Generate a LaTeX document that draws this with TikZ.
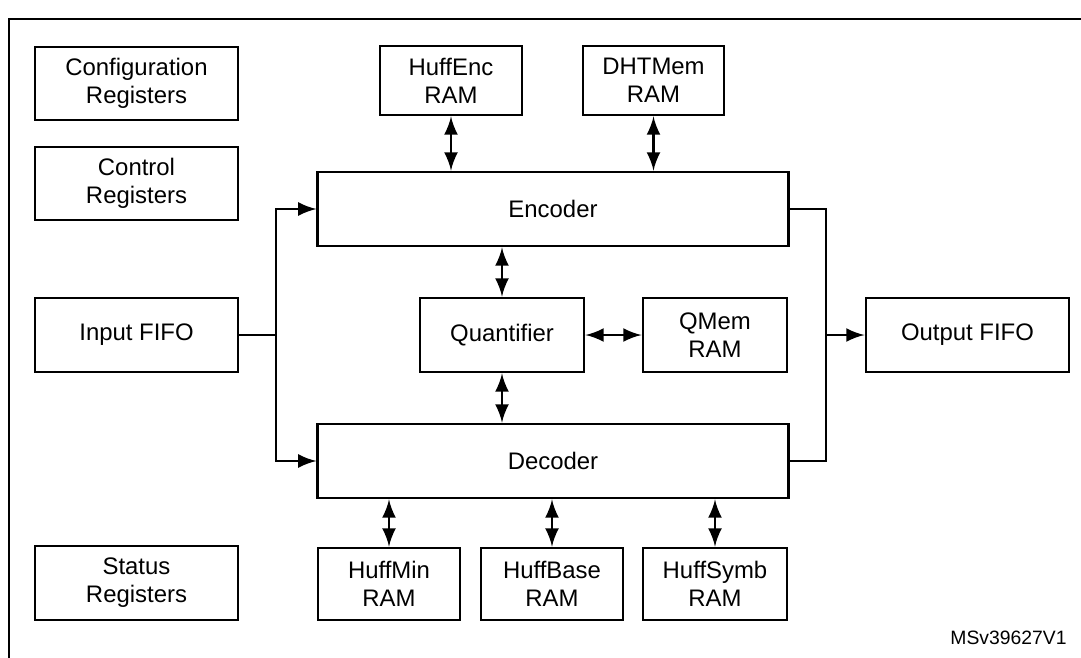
\documentclass[tikz,border=0pt]{standalone}
\usepackage{fontspec}
\setmainfont{Liberation Sans}
\begin{document}
\begin{tikzpicture}[x=0.01cm,y=-0.01cm,
    block_box/.style={draw=black,thick,align=center,font=\fontsize{6.8}{8}\selectfont,inner sep=0pt},
    double_arrow/.style={thick,black,<->,>=latex},
    single_arrow/.style={thick,black,->,>=latex},
    bus_wire/.style={thick,black}]
  \useasboundingbox (0,0) rectangle (1081,657);
  \begin{scope}
    \clip (0,0) rectangle (1081,657);
    \draw[thick] (9,19) rectangle (1090,670);
  \end{scope}
\node[block_box,minimum width=2.03cm,minimum height=0.73cm] (config) at (136.5,83.5) {Configuration\\Registers};
\node[block_box,minimum width=2.03cm,minimum height=0.73cm] (control) at (136.5,183.5) {Control\\Registers};
\node[block_box,minimum width=2.03cm,minimum height=0.74cm] (infifo) at (136.5,335) {Input FIFO};
\node[block_box,minimum width=2.03cm,minimum height=0.74cm] (status) at (136.5,583) {Status\\Registers};
\node[block_box,minimum width=1.42cm,minimum height=0.69cm] (huffenc) at (451,80.5) {HuffEnc\\RAM};
\node[block_box,minimum width=1.41cm,minimum height=0.69cm] (dhtmem) at (653.5,80.5) {DHTMem\\RAM};
\node[block_box,minimum width=4.70cm,minimum height=0.74cm] (encoder) at (553,209) {Encoder};
\node[block_box,minimum width=1.64cm,minimum height=0.74cm] (quant) at (502,335) {Quantifier};
\node[block_box,minimum width=1.44cm,minimum height=0.74cm] (qmem) at (715,335) {QMem\\RAM};
\node[block_box,minimum width=4.70cm,minimum height=0.74cm] (decoder) at (553,461) {Decoder};
\node[block_box,minimum width=1.42cm,minimum height=0.72cm] (huffmin) at (389,584) {HuffMin\\RAM};
\node[block_box,minimum width=1.42cm,minimum height=0.72cm] (huffbase) at (552,584) {HuffBase\\RAM};
\node[block_box,minimum width=1.44cm,minimum height=0.72cm] (huffsymb) at (715,584) {HuffSymb\\RAM};
\node[block_box,minimum width=2.03cm,minimum height=0.74cm] (outfifo) at (967.5,335) {Output FIFO};
\node[font=\fontsize{5.5}{6}\selectfont,anchor=east] (ref) at (1079,638) {MSv39627V1};
\coordinate (in_j) at (276,335);
\coordinate (out_j) at (826,335);
\draw[bus_wire] (infifo) -- (in_j);
\draw[single_arrow] (in_j) |- (encoder.west);
\draw[single_arrow] (in_j) |- (decoder.west);
\draw[bus_wire] (encoder.east) -| (out_j);
\draw[bus_wire] (decoder.east) -| (out_j);
\draw[single_arrow] (out_j) -- (outfifo);
\draw[double_arrow] (huffenc) -- (huffenc |- encoder.north);
\draw[double_arrow] (dhtmem) -- (dhtmem |- encoder.north);
\draw[double_arrow] (quant) -- (quant |- encoder.south);
\draw[double_arrow] (quant) -- (qmem);
\draw[double_arrow] (quant) -- (quant |- decoder.north);
\draw[double_arrow] (huffmin) -- (huffmin |- decoder.south);
\draw[double_arrow] (huffbase) -- (huffbase |- decoder.south);
\draw[double_arrow] (huffsymb) -- (huffsymb |- decoder.south);
\end{tikzpicture}
\end{document}
